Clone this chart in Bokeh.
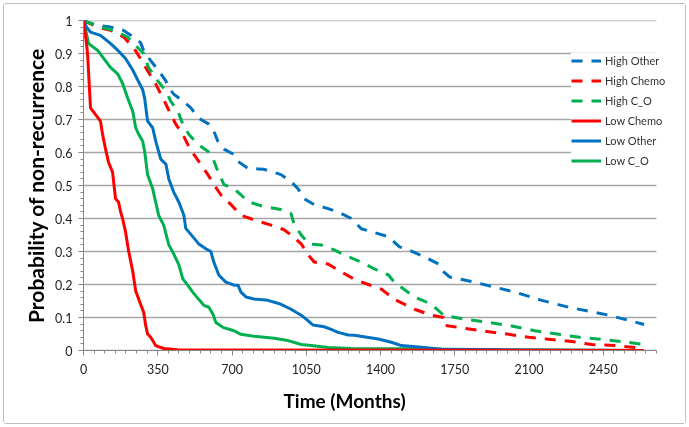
from bokeh.plotting import figure
from bokeh.models import Range1d, Legend, LegendItem, FixedTicker, CustomJSTickFormatter, Title
from bokeh.embed import file_html
from bokeh.resources import INLINE

# ---- data ----
low_chemo_t = [0, 8, 14, 19, 33, 80, 90, 104, 118, 137, 151, 165, 175, 184, 198, 213, 232, 246, 269, 284, 293, 302, 317, 340, 378, 444, 2640]
low_chemo_p = [1, 0.96, 0.93, 0.9, 0.735, 0.695, 0.655, 0.61, 0.57, 0.54, 0.46, 0.45, 0.42, 0.4, 0.36, 0.3, 0.24, 0.18, 0.14, 0.115, 0.076, 0.05, 0.04, 0.015, 0.006, 0.002, 0.0]

low_other_t = [0, 14, 33, 80, 128, 161, 198, 232, 255, 279, 288, 302, 326, 340, 364, 388, 402, 425, 449, 473, 482, 515, 543, 577, 600, 614, 638, 671, 709, 728, 742, 766, 803, 870, 931, 978, 1026, 1059, 1082, 1134, 1167, 1200, 1248, 1276, 1389, 1451, 1498, 1593, 1687, 1876, 2112, 2640]
low_other_p = [1, 0.98, 0.965, 0.955, 0.93, 0.91, 0.885, 0.85, 0.82, 0.79, 0.765, 0.695, 0.675, 0.635, 0.58, 0.565, 0.52, 0.48, 0.45, 0.41, 0.37, 0.345, 0.323, 0.308, 0.3, 0.268, 0.228, 0.207, 0.198, 0.198, 0.177, 0.162, 0.156, 0.152, 0.14, 0.125, 0.107, 0.09, 0.077, 0.072, 0.064, 0.055, 0.047, 0.046, 0.035, 0.025, 0.015, 0.01, 0.004, 0.003, 0.001, 0.0]

low_co_t = [0, 14, 24, 66, 95, 128, 161, 184, 208, 232, 246, 260, 279, 288, 302, 326, 340, 354, 378, 402, 425, 449, 468, 491, 515, 543, 567, 591, 610, 624, 657, 709, 742, 803, 898, 964, 1026, 1073, 1153, 1262, 1498, 1971, 2448, 2640]
low_co_p = [1, 0.96, 0.93, 0.91, 0.885, 0.857, 0.838, 0.81, 0.765, 0.725, 0.675, 0.655, 0.634, 0.604, 0.533, 0.49, 0.45, 0.41, 0.38, 0.32, 0.293, 0.26, 0.217, 0.198, 0.177, 0.155, 0.137, 0.131, 0.11, 0.085, 0.07, 0.06, 0.049, 0.043, 0.037, 0.03, 0.018, 0.015, 0.009, 0.006, 0.005, 0.002, 0.001, 0.0]

high_other_t = [0, 19, 66, 128, 189, 236, 269, 284, 317, 354, 388, 402, 425, 468, 506, 543, 591, 614, 633, 662, 709, 728, 775, 851, 931, 978, 1011, 1040, 1087, 1153, 1215, 1262, 1309, 1437, 1489, 1531, 1607, 1673, 1687, 1725, 1843, 1938, 2032, 2160, 2287, 2382, 2476, 2571, 2642]
high_other_p = [1, 0.995, 0.985, 0.98, 0.97, 0.95, 0.933, 0.908, 0.878, 0.848, 0.817, 0.796, 0.777, 0.756, 0.735, 0.704, 0.686, 0.665, 0.634, 0.61, 0.594, 0.573, 0.552, 0.549, 0.533, 0.512, 0.49, 0.46, 0.442, 0.43, 0.415, 0.4, 0.369, 0.345, 0.314, 0.305, 0.284, 0.262, 0.244, 0.223, 0.207, 0.192, 0.177, 0.152, 0.131, 0.119, 0.107, 0.091, 0.079]

high_chemo_t = [0, 66, 128, 189, 236, 269, 302, 340, 364, 388, 411, 435, 468, 491, 520, 553, 586, 614, 647, 695, 742, 803, 884, 945, 988, 1026, 1059, 1087, 1153, 1215, 1276, 1342, 1404, 1465, 1560, 1640, 1697, 1701, 1767, 1876, 2004, 2098, 2193, 2302, 2396, 2505, 2599, 2642]
high_chemo_p = [1, 0.98, 0.97, 0.95, 0.918, 0.884, 0.848, 0.808, 0.777, 0.747, 0.716, 0.686, 0.655, 0.625, 0.594, 0.564, 0.533, 0.503, 0.472, 0.442, 0.41, 0.396, 0.38, 0.366, 0.345, 0.323, 0.29, 0.268, 0.262, 0.238, 0.216, 0.2, 0.186, 0.155, 0.125, 0.107, 0.1, 0.076, 0.07, 0.06, 0.049, 0.04, 0.034, 0.027, 0.018, 0.015, 0.009, 0.006]

high_co_t = [0, 80, 142, 208, 255, 284, 307, 350, 388, 411, 444, 468, 496, 539, 586, 610, 633, 662, 709, 742, 775, 851, 931, 978, 992, 1026, 1063, 1120, 1181, 1248, 1309, 1371, 1437, 1465, 1560, 1640, 1697, 1796, 1909, 2004, 2098, 2127, 2240, 2339, 2443, 2538, 2642]
high_co_p = [1, 0.98, 0.97, 0.95, 0.918, 0.9, 0.857, 0.817, 0.787, 0.756, 0.726, 0.686, 0.655, 0.625, 0.604, 0.582, 0.543, 0.503, 0.49, 0.472, 0.451, 0.436, 0.427, 0.415, 0.384, 0.35, 0.323, 0.32, 0.305, 0.284, 0.268, 0.247, 0.229, 0.207, 0.162, 0.14, 0.107, 0.095, 0.085, 0.076, 0.064, 0.06, 0.049, 0.04, 0.034, 0.027, 0.018]

x_major_ticks = [0, 350, 700, 1050, 1400, 1750, 2100, 2450]
y_major_ticks = [0, 0.1, 0.2, 0.3, 0.4, 0.5, 0.6, 0.7, 0.8, 0.9, 1.0]
X_MAX = 2700

BLUE = "#0070C0"
RED = "#FF0000"
GREEN = "#00B050"
FONT = "Lato"

# frame extends past the axis end so the legend (which overhangs the axis end) is not clipped
FRAME_PX = 595
AXIS_PX = 571
x_end = X_MAX * FRAME_PX / AXIS_PX

p = figure(width=683, height=421, output_backend="svg", toolbar_location=None,
           x_range=Range1d(0, x_end), y_range=Range1d(0, 1),
           min_border_left=79, min_border_right=7, min_border_top=16, min_border_bottom=75)
p.styles = {"position": "fixed", "left": "3px", "top": "3px", "border": "1px solid #bfbfbf",
            "border-radius": "3px", "box-sizing": "border-box"}
p.outline_line_color = None
p.background_fill_color = "white"
p.border_fill_color = "white"

# grid (horizontal lines drawn only over the axis extent)
p.xgrid.grid_line_color = None
p.ygrid.grid_line_color = None
p.segment(x0=[0] * len(y_major_ticks), y0=y_major_ticks, x1=[X_MAX] * len(y_major_ticks), y1=y_major_ticks,
          line_color="#a6a6a6", line_width=1.3, level="underlay")

# axes
x_minor = [v for v in range(0, X_MAX + 1, 50)]
y_minor = [round(i * 0.02, 2) for i in range(0, 51)]
p.xaxis.ticker = FixedTicker(ticks=x_major_ticks, minor_ticks=x_minor)
p.xaxis.bounds = (0, X_MAX)
p.yaxis.ticker = FixedTicker(ticks=y_major_ticks, minor_ticks=y_minor)
p.yaxis.formatter = CustomJSTickFormatter(code="return String(Math.round(tick*10)/10);")
for ax in (p.xaxis, p.yaxis):
    ax.axis_line_color = "#868686"
    ax.major_tick_line_color = "#868686"
    ax.minor_tick_line_color = "#868686"
    ax.major_tick_in = 0
    ax.minor_tick_in = 0
    ax.major_tick_out = 5
    ax.minor_tick_out = 3
    ax.major_label_text_font = FONT
    ax.major_label_text_font_size = "12.5px"
    ax.major_label_text_color = "#222222"
p.xaxis.major_label_standoff = 8
p.yaxis.major_label_standoff = 6
p.yaxis.axis_label = "Probability of non-recurrence"
p.yaxis.axis_label_text_font = FONT
p.yaxis.axis_label_text_font_style = "bold"
p.yaxis.axis_label_text_font_size = "21px"
p.yaxis.axis_label_text_color = "#000000"
p.yaxis.axis_label_standoff = 4

# x title: the reference places it left of the axis centre
x_title = Title(text="Time (Months)", align="left", offset=200, standoff=20,
                text_font=FONT, text_font_style="bold", text_font_size="19px", text_color="#000000")
p.add_layout(x_title, "below")

dash = "11 9"
r_ho = p.line(high_other_t, high_other_p, line_color=BLUE, line_width=3, line_dash=dash, line_join="round")
r_hc = p.line(high_chemo_t, high_chemo_p, line_color=RED, line_width=3, line_dash=dash, line_join="round")
r_hco = p.line(high_co_t, high_co_p, line_color=GREEN, line_width=3, line_dash=dash, line_join="round")
r_lco = p.line(low_co_t, low_co_p, line_color=GREEN, line_width=3, line_join="round")
r_lo = p.line(low_other_t, low_other_p, line_color=BLUE, line_width=3, line_join="round")
r_lc = p.line(low_chemo_t, low_chemo_p, line_color=RED, line_width=3, line_join="round")

legend = Legend(items=[
    LegendItem(label="High Other", renderers=[r_ho]),
    LegendItem(label="High Chemo", renderers=[r_hc]),
    LegendItem(label="High C_O", renderers=[r_hco]),
    LegendItem(label="Low Chemo", renderers=[r_lc]),
    LegendItem(label="Low Other", renderers=[r_lo]),
    LegendItem(label="Low C_O", renderers=[r_lco]),
], location=(488, 182))
legend.background_fill_color = "white"
legend.background_fill_alpha = 1.0
legend.border_line_color = None
legend.padding = 14
legend.spacing = 5
legend.glyph_height = 15
legend.glyph_width = 30
legend.label_height = 15
legend.label_standoff = 4
legend.margin = 0
legend.label_text_font = FONT
legend.label_text_font_size = "11px"
legend.label_text_color = "#333333"
p.add_layout(legend, "center")

open("out.html", "w").write(file_html(p, INLINE))
